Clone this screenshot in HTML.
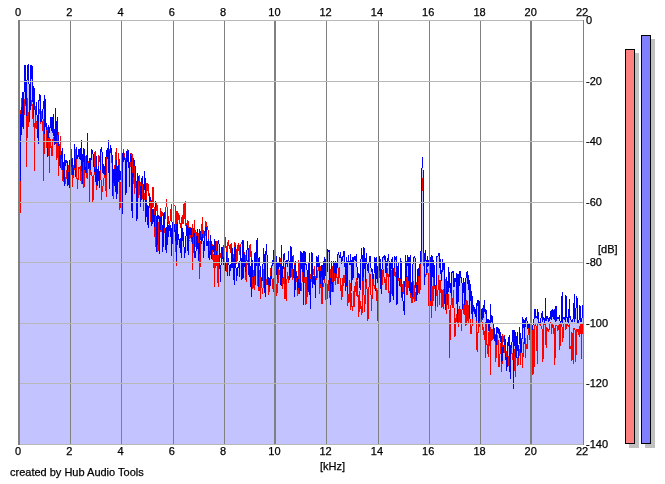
<!DOCTYPE html>
<html><head><meta charset="utf-8"><style>
html,body{margin:0;padding:0;background:#fff;width:665px;height:484px;overflow:hidden}
svg{display:block}
text{font-family:"Liberation Sans",Arial,sans-serif;font-size:11px;fill:#000;stroke:#000;stroke-width:0.25px}
</style></head><body>
<svg width="665" height="484" viewBox="0 0 665 484">
<rect width="665" height="484" fill="#fff"/>
<defs><clipPath id="pc"><rect x="18" y="0" width="565" height="445"/></clipPath></defs>
<g clip-path="url(#pc)">
<polygon points="20.0,445 20.0,183.0 20.6,122.7 21.1,112.6 21.7,135.0 22.2,92.0 22.8,124.8 23.3,129.0 23.9,98.8 24.4,69.7 25.0,65.0 25.5,79.9 26.1,107.3 26.6,116.2 27.2,65.0 27.7,74.5 28.3,65.3 28.8,64.0 29.4,122.2 29.9,110.7 30.5,104.7 31.0,65.0 31.6,79.3 32.1,66.0 32.7,77.1 33.2,116.6 33.8,86.0 34.4,90.7 34.9,108.9 35.5,114.6 36.0,112.0 36.6,102.5 37.1,117.3 37.7,126.6 38.2,144.1 38.8,103.8 39.3,96.0 39.9,94.3 40.4,97.6 41.0,122.0 41.5,120.7 42.1,119.0 42.6,109.5 43.2,109.1 43.7,108.0 44.3,95.3 44.8,133.5 45.4,99.5 45.9,126.6 46.5,123.0 47.0,130.0 47.6,157.2 48.2,125.4 48.7,137.7 49.3,128.0 49.8,129.0 50.4,126.8 50.9,117.6 51.5,117.5 52.0,130.7 52.6,132.7 53.1,114.0 53.7,133.4 54.2,137.6 54.8,144.7 55.3,107.7 55.9,143.9 56.4,138.3 57.0,121.2 57.5,117.0 58.1,137.2 58.6,140.4 59.2,149.0 59.7,163.8 60.3,168.4 60.9,156.6 61.4,150.6 62.0,159.0 62.5,148.0 63.1,173.0 63.6,162.2 64.2,186.0 64.7,153.9 65.3,166.0 65.8,163.7 66.4,161.0 66.9,159.7 67.5,167.5 68.0,185.7 68.6,171.9 69.1,188.0 69.7,160.0 70.2,173.2 70.8,168.9 71.3,165.0 71.9,159.1 72.4,158.5 73.0,174.5 73.5,174.1 74.1,167.1 74.7,144.0 75.2,176.6 75.8,167.4 76.3,147.4 76.9,153.8 77.4,158.3 78.0,156.9 78.5,149.4 79.1,158.5 79.6,150.7 80.2,148.4 80.7,160.2 81.3,140.0 81.8,163.3 82.4,183.8 82.9,153.9 83.5,161.6 84.0,148.5 84.6,155.8 85.1,172.6 85.7,167.2 86.2,172.7 86.8,170.4 87.3,133.0 87.9,162.7 88.5,164.2 89.0,168.5 89.6,161.2 90.1,157.9 90.7,169.7 91.2,154.7 91.8,150.4 92.3,150.9 92.9,152.7 93.4,160.3 94.0,166.6 94.5,171.4 95.1,170.4 95.6,175.5 96.2,185.2 96.7,156.5 97.3,180.8 97.8,185.9 98.4,172.9 98.9,166.0 99.5,188.0 100.0,170.9 100.6,153.4 101.1,147.6 101.7,148.1 102.3,156.2 102.8,172.3 103.4,173.1 103.9,163.6 104.5,173.4 105.0,175.1 105.6,175.7 106.1,153.0 106.7,151.6 107.2,149.0 107.8,148.1 108.3,173.0 108.9,140.0 109.4,189.2 110.0,153.1 110.5,145.0 111.1,148.9 111.6,152.2 112.2,156.6 112.7,196.0 113.3,169.0 113.8,183.0 114.4,169.4 114.9,184.9 115.5,192.2 116.1,160.0 116.6,199.0 117.2,191.4 117.7,167.3 118.3,164.7 118.8,181.8 119.4,176.7 119.9,169.6 120.5,176.3 121.0,179.7 121.6,189.5 122.1,213.5 122.7,155.3 123.2,151.8 123.8,162.4 124.3,157.0 124.9,159.3 125.4,161.2 126.0,194.9 126.5,151.0 127.1,162.3 127.6,151.9 128.2,150.9 128.8,152.5 129.3,187.4 129.9,164.2 130.4,155.3 131.0,154.0 131.5,210.6 132.1,173.0 132.6,218.0 133.2,159.8 133.7,158.0 134.3,161.8 134.8,165.3 135.4,167.1 135.9,178.3 136.5,191.7 137.0,221.0 137.6,173.1 138.1,176.7 138.7,176.4 139.2,183.1 139.8,184.7 140.3,188.4 140.9,206.5 141.4,177.7 142.0,184.1 142.6,176.1 143.1,185.7 143.7,203.1 144.2,182.1 144.8,171.4 145.3,187.0 145.9,221.6 146.4,200.5 147.0,205.0 147.5,211.6 148.1,228.0 148.6,226.7 149.2,197.1 149.7,194.2 150.3,199.8 150.8,200.8 151.4,201.5 151.9,226.1 152.5,212.5 153.0,208.8 153.6,220.6 154.1,222.0 154.7,226.9 155.2,208.4 155.8,201.2 156.4,244.0 156.9,251.9 157.5,220.5 158.0,215.0 158.6,218.8 159.1,216.4 159.7,254.3 160.2,216.7 160.8,223.7 161.3,216.8 161.9,217.0 162.4,252.0 163.0,249.3 163.5,214.4 164.1,212.8 164.6,214.3 165.2,233.4 165.7,249.6 166.3,227.0 166.8,253.0 167.4,231.0 167.9,221.6 168.5,237.0 169.0,229.2 169.6,229.9 170.2,224.8 170.7,236.5 171.3,228.0 171.8,256.0 172.4,221.9 172.9,227.3 173.5,229.3 174.0,224.4 174.6,226.3 175.1,232.7 175.7,240.8 176.2,224.2 176.8,261.0 177.3,222.5 177.9,235.5 178.4,234.7 179.0,240.4 179.5,247.8 180.1,237.7 180.6,242.5 181.2,258.0 181.7,226.7 182.3,229.2 182.8,241.4 183.4,232.1 184.0,246.5 184.5,258.4 185.1,251.6 185.6,238.9 186.2,234.5 186.7,225.6 187.3,226.3 187.8,249.1 188.4,255.0 188.9,227.9 189.5,227.7 190.0,235.4 190.6,229.6 191.1,228.0 191.7,231.2 192.2,243.5 192.8,243.0 193.3,228.4 193.9,229.6 194.4,245.7 195.0,257.4 195.5,256.7 196.1,250.2 196.7,247.6 197.2,229.0 197.8,248.7 198.3,242.7 198.9,261.0 199.4,228.7 200.0,231.8 200.5,231.5 201.1,241.3 201.6,244.2 202.2,234.2 202.7,238.8 203.3,242.6 203.8,258.0 204.4,240.0 204.9,232.3 205.5,228.5 206.0,227.0 206.6,246.4 207.1,245.3 207.7,244.7 208.2,239.1 208.8,258.0 209.3,250.8 209.9,259.9 210.5,234.9 211.0,241.0 211.6,259.4 212.1,246.4 212.7,246.0 213.2,251.7 213.8,250.2 214.3,238.8 214.9,254.6 215.4,241.0 216.0,250.9 216.5,255.4 217.1,249.7 217.6,249.6 218.2,241.6 218.7,241.0 219.3,247.1 219.8,261.5 220.4,281.6 220.9,268.4 221.5,250.7 222.0,247.0 222.6,257.9 223.1,256.9 223.7,258.5 224.3,271.3 224.8,269.2 225.4,270.7 225.9,265.3 226.5,252.5 227.0,263.4 227.6,275.6 228.1,258.0 228.7,260.7 229.2,267.8 229.8,276.3 230.3,264.0 230.9,268.6 231.4,266.7 232.0,247.5 232.5,267.7 233.1,258.4 233.6,267.9 234.2,284.7 234.7,248.5 235.3,245.3 235.8,261.2 236.4,280.9 236.9,275.0 237.5,275.4 238.1,265.5 238.6,262.7 239.2,270.5 239.7,277.3 240.3,247.5 240.8,252.2 241.4,268.8 241.9,278.6 242.5,278.0 243.0,240.0 243.6,277.7 244.1,254.3 244.7,256.1 245.2,272.4 245.8,266.8 246.3,252.9 246.9,252.8 247.4,240.8 248.0,247.0 248.5,265.2 249.1,276.6 249.6,262.0 250.2,267.2 250.7,275.7 251.3,297.0 251.9,258.5 252.4,263.1 253.0,277.0 253.5,283.5 254.1,274.7 254.6,254.6 255.2,251.6 255.7,285.1 256.3,249.1 256.8,241.0 257.4,237.6 257.9,251.7 258.5,286.5 259.0,264.3 259.6,257.2 260.1,267.7 260.7,271.8 261.2,280.7 261.8,279.7 262.3,279.9 262.9,268.5 263.4,248.3 264.0,253.3 264.6,274.0 265.1,297.0 265.7,252.1 266.2,250.7 266.8,244.0 267.3,268.5 267.9,285.2 268.4,283.8 269.0,277.3 269.5,287.0 270.1,276.5 270.6,285.7 271.2,276.2 271.7,272.5 272.3,260.3 272.8,262.6 273.4,263.1 273.9,250.3 274.5,262.8 275.0,283.8 275.6,270.6 276.1,256.1 276.7,269.6 277.2,278.5 277.8,263.0 278.4,263.2 278.9,269.4 279.5,257.0 280.0,263.6 280.6,284.2 281.1,284.6 281.7,245.5 282.2,278.3 282.8,266.7 283.3,268.7 283.9,254.6 284.4,254.0 285.0,259.9 285.5,284.4 286.1,260.3 286.6,260.6 287.2,262.3 287.7,267.2 288.3,254.5 288.8,251.1 289.4,280.0 289.9,278.8 290.5,273.3 291.0,246.5 291.6,268.0 292.2,256.3 292.7,267.2 293.3,270.5 293.8,277.8 294.4,265.2 294.9,297.0 295.5,260.9 296.0,272.1 296.6,277.9 297.1,275.8 297.7,290.2 298.2,286.4 298.8,279.1 299.3,286.9 299.9,293.6 300.4,284.6 301.0,252.0 301.5,252.9 302.1,271.8 302.6,257.9 303.2,251.5 303.7,304.7 304.3,252.8 304.8,251.9 305.4,253.0 306.0,264.4 306.5,264.3 307.1,271.3 307.6,285.7 308.2,292.2 308.7,272.7 309.3,253.0 309.8,286.8 310.4,309.3 310.9,283.4 311.5,261.6 312.0,251.8 312.6,287.6 313.1,275.9 313.7,284.1 314.2,277.0 314.8,276.5 315.3,297.5 315.9,281.8 316.4,267.5 317.0,256.5 317.5,261.2 318.1,267.4 318.6,255.0 319.2,266.5 319.8,274.2 320.3,283.8 320.9,271.4 321.4,277.4 322.0,264.9 322.5,287.1 323.1,261.0 323.6,279.0 324.2,278.4 324.7,257.0 325.3,261.6 325.8,275.9 326.4,251.3 326.9,251.0 327.5,271.5 328.0,250.0 328.6,250.9 329.1,250.4 329.7,251.4 330.2,304.7 330.8,290.0 331.3,261.1 331.9,282.2 332.5,292.4 333.0,282.5 333.6,260.8 334.1,273.2 334.7,267.5 335.2,260.8 335.8,277.9 336.3,267.7 336.9,262.3 337.4,268.2 338.0,253.6 338.5,251.7 339.1,255.2 339.6,256.0 340.2,258.3 340.7,251.6 341.3,261.9 341.8,263.6 342.4,255.9 342.9,258.2 343.5,251.7 344.0,251.0 344.6,266.5 345.1,262.6 345.7,291.1 346.3,256.6 346.8,282.0 347.4,294.0 347.9,262.9 348.5,255.4 349.0,261.4 349.6,261.3 350.1,265.2 350.7,254.0 351.2,262.7 351.8,290.6 352.3,266.2 352.9,256.6 353.4,278.3 354.0,257.4 354.5,257.0 355.1,260.9 355.6,256.8 356.2,255.5 356.7,258.6 357.3,274.7 357.8,279.6 358.4,275.4 358.9,273.2 359.5,276.7 360.1,290.0 360.6,276.6 361.2,251.3 361.7,248.3 362.3,261.7 362.8,281.3 363.4,269.7 363.9,247.0 364.5,253.9 365.0,269.4 365.6,282.1 366.1,253.0 366.7,255.8 367.2,268.8 367.8,270.5 368.3,271.3 368.9,264.2 369.4,259.1 370.0,256.4 370.5,256.3 371.1,269.8 371.6,270.9 372.2,269.3 372.7,278.6 373.3,277.2 373.9,278.4 374.4,257.3 375.0,256.9 375.5,290.7 376.1,256.6 376.6,267.8 377.2,283.2 377.7,265.9 378.3,282.8 378.8,265.3 379.4,271.1 379.9,256.3 380.5,269.1 381.0,289.4 381.6,294.0 382.1,263.9 382.7,257.1 383.2,256.5 383.8,256.6 384.3,260.4 384.9,255.8 385.4,256.6 386.0,273.0 386.5,261.5 387.1,265.8 387.7,260.4 388.2,256.2 388.8,254.0 389.3,270.4 389.9,268.6 390.4,302.2 391.0,263.2 391.5,268.8 392.1,257.0 392.6,286.5 393.2,300.4 393.7,278.4 394.3,258.1 394.8,256.6 395.4,260.3 395.9,257.0 396.5,256.5 397.0,305.0 397.6,278.8 398.1,263.1 398.7,275.5 399.2,278.7 399.8,286.4 400.4,264.5 400.9,257.7 401.5,272.9 402.0,297.3 402.6,292.5 403.1,302.6 403.7,305.2 404.2,314.5 404.8,299.1 405.3,255.9 405.9,256.6 406.4,276.8 407.0,266.3 407.5,254.6 408.1,258.4 408.6,256.7 409.2,290.9 409.7,258.0 410.3,256.9 410.8,292.3 411.4,295.4 411.9,283.0 412.5,297.0 413.0,264.6 413.6,259.8 414.2,256.6 414.7,256.4 415.3,259.6 415.8,288.3 416.4,285.1 416.9,300.6 417.5,271.6 418.0,269.4 418.6,268.5 419.1,277.3 419.7,269.8 420.2,260.9 420.8,262.0 421.3,235.0 421.9,172.0 422.4,157.0 423.0,168.0 423.5,225.0 424.1,258.0 424.6,285.3 425.2,250.5 425.7,257.3 426.3,262.7 426.8,273.0 427.4,256.2 428.0,260.2 428.5,265.7 429.1,265.3 429.6,274.2 430.2,301.0 430.7,260.0 431.3,254.6 431.8,286.4 432.4,260.3 432.9,255.9 433.5,277.9 434.0,264.8 434.6,271.8 435.1,288.9 435.7,305.9 436.2,272.9 436.8,256.8 437.3,256.4 437.9,256.5 438.4,254.3 439.0,255.4 439.5,252.6 440.1,271.0 440.6,258.7 441.2,281.3 441.8,279.3 442.3,258.8 442.9,271.8 443.4,263.7 444.0,262.6 444.5,269.1 445.1,309.6 445.6,295.8 446.2,292.7 446.7,277.1 447.3,284.1 447.8,305.0 448.4,266.7 448.9,269.2 449.5,282.9 450.0,287.7 450.6,282.9 451.1,295.5 451.7,272.3 452.2,271.9 452.8,272.6 453.3,272.0 453.9,287.0 454.4,286.0 455.0,278.2 455.6,281.8 456.1,278.4 456.7,273.3 457.2,321.8 457.8,273.9 458.3,302.2 458.9,274.4 459.4,285.6 460.0,271.0 460.5,277.2 461.1,278.2 461.6,277.9 462.2,285.6 462.7,309.1 463.3,279.7 463.8,278.0 464.4,288.3 464.9,304.8 465.5,284.4 466.0,278.2 466.6,276.6 467.1,271.0 467.7,284.3 468.3,279.3 468.8,275.2 469.4,317.6 469.9,280.0 470.5,300.1 471.0,300.9 471.6,290.8 472.1,318.6 472.7,295.8 473.2,310.8 473.8,304.7 474.3,310.9 474.9,312.9 475.4,316.8 476.0,309.3 476.5,321.3 477.1,300.0 477.6,306.0 478.2,300.1 478.7,323.6 479.3,318.3 479.8,301.0 480.4,315.0 480.9,321.4 481.5,309.6 482.1,309.1 482.6,320.1 483.2,316.4 483.7,310.2 484.3,300.0 484.8,311.1 485.4,314.1 485.9,308.8 486.5,313.7 487.0,324.2 487.6,320.3 488.1,319.2 488.7,331.4 489.2,326.8 489.8,331.0 490.3,304.0 490.9,324.1 491.4,314.8 492.0,316.1 492.5,321.3 493.1,324.1 493.6,329.3 494.2,341.0 494.7,328.0 495.3,342.1 495.9,337.1 496.4,345.0 497.0,326.7 497.5,329.0 498.1,334.2 498.6,328.7 499.2,329.4 499.7,333.3 500.3,341.7 500.8,332.4 501.4,343.6 501.9,362.0 502.5,356.1 503.0,347.3 503.6,353.1 504.1,343.7 504.7,336.3 505.2,340.2 505.8,360.1 506.3,357.4 506.9,370.6 507.4,353.1 508.0,341.7 508.5,346.4 509.1,335.3 509.7,359.5 510.2,379.4 510.8,346.3 511.3,347.2 511.9,344.6 512.4,333.7 513.0,330.0 513.5,389.0 514.1,338.5 514.6,330.3 515.2,333.4 515.7,355.9 516.3,357.0 516.8,337.7 517.4,332.0 517.9,349.5 518.5,358.0 519.0,344.9 519.6,327.3 520.1,334.1 520.7,352.5 521.2,351.5 521.8,350.7 522.4,317.0 522.9,328.5 523.5,325.3 524.0,319.3 524.6,343.7 525.1,323.2 525.7,318.6 526.2,317.2 526.8,317.7 527.3,325.2 527.9,328.9 528.4,324.2 529.0,324.7 529.5,332.6 530.1,322.6 530.6,323.1 531.2,331.6 531.7,330.6 532.3,328.6 532.8,327.3 533.4,321.2 533.9,319.9 534.5,316.5 535.0,309.0 535.6,317.0 536.2,316.3 536.7,316.8 537.3,318.7 537.8,309.0 538.4,317.5 538.9,322.2 539.5,323.5 540.0,322.7 540.6,318.5 541.1,318.1 541.7,316.6 542.2,310.7 542.8,322.1 543.3,317.9 543.9,317.6 544.4,318.2 545.0,322.7 545.5,297.6 546.1,320.6 546.6,316.5 547.2,318.5 547.7,317.2 548.3,318.8 548.8,322.3 549.4,318.6 550.0,317.6 550.5,311.0 551.1,320.1 551.6,312.8 552.2,309.0 552.7,314.2 553.3,318.9 553.8,311.0 554.4,308.9 554.9,319.9 555.5,321.6 556.0,305.8 556.6,321.0 557.1,316.8 557.7,317.7 558.2,319.0 558.8,317.9 559.3,316.8 559.9,320.6 560.4,321.9 561.0,322.4 561.5,319.8 562.1,292.4 562.6,323.0 563.2,317.8 563.8,317.2 564.3,317.1 564.9,319.3 565.4,322.3 566.0,295.5 566.5,317.7 567.1,317.4 567.6,319.9 568.2,322.5 568.7,320.1 569.3,298.6 569.8,318.1 570.4,316.4 570.9,319.5 571.5,321.5 572.0,321.1 572.6,321.7 573.1,318.9 573.7,318.7 574.2,294.5 574.8,322.1 575.3,314.8 575.9,311.8 576.4,296.3 577.0,297.8 577.6,322.0 578.1,321.5 578.7,322.3 579.2,319.4 579.8,304.8 580.3,307.9 580.9,322.4 581.4,321.4 582.0,318.1 582.5,304.8 583.1,317.1 583.6,312.7 584.2,320.4 584.2,445" fill="#c3c3ff" stroke="none" shape-rendering="crispEdges"/>
<polyline points="20.0,216.0 20.6,141.1 21.1,102.6 21.7,99.4 22.2,97.5 22.8,97.7 23.3,117.0 23.9,119.5 24.4,99.0 25.0,102.2 25.5,106.3 26.1,98.0 26.6,166.5 27.2,97.8 27.7,137.5 28.3,117.6 28.8,112.5 29.4,114.4 29.9,91.0 30.5,107.1 31.0,100.2 31.6,105.4 32.1,105.4 32.7,104.5 33.2,127.1 33.8,97.7 34.4,170.7 34.9,133.6 35.5,106.2 36.0,124.6 36.6,120.9 37.1,130.9 37.7,134.0 38.2,119.0 38.8,105.0 39.3,113.5 39.9,111.7 40.4,124.1 41.0,112.0 41.5,111.4 42.1,122.6 42.6,131.3 43.2,119.1 43.7,181.0 44.3,128.6 44.8,123.7 45.4,127.0 45.9,124.6 46.5,130.9 47.0,148.4 47.6,132.3 48.2,125.0 48.7,137.9 49.3,172.7 49.8,136.6 50.4,142.2 50.9,148.4 51.5,145.7 52.0,156.2 52.6,146.2 53.1,137.8 53.7,137.6 54.2,143.9 54.8,134.2 55.3,125.0 55.9,124.9 56.4,128.2 57.0,159.9 57.5,125.0 58.1,133.0 58.6,176.0 59.2,151.8 59.7,152.5 60.3,135.8 60.9,151.2 61.4,167.8 62.0,169.9 62.5,177.7 63.1,181.7 63.6,174.6 64.2,169.0 64.7,173.0 65.3,180.5 65.8,184.0 66.4,169.6 66.9,173.4 67.5,174.1 68.0,165.1 68.6,169.8 69.1,178.2 69.7,175.0 70.2,156.2 70.8,148.4 71.3,150.0 71.9,171.8 72.4,187.3 73.0,178.6 73.5,165.3 74.1,166.0 74.7,170.3 75.2,153.5 75.8,149.4 76.3,166.1 76.9,175.5 77.4,188.5 78.0,180.1 78.5,169.2 79.1,166.8 79.6,168.8 80.2,166.2 80.7,177.4 81.3,183.7 81.8,167.7 82.4,172.4 82.9,156.5 83.5,181.6 84.0,188.3 84.6,163.7 85.1,155.7 85.7,160.5 86.2,170.3 86.8,177.0 87.3,177.9 87.9,162.2 88.5,164.5 89.0,161.2 89.6,203.0 90.1,166.0 90.7,175.3 91.2,172.3 91.8,174.5 92.3,178.0 92.9,203.1 93.4,189.7 94.0,175.6 94.5,161.8 95.1,150.9 95.6,153.2 96.2,175.7 96.7,189.5 97.3,175.6 97.8,172.6 98.4,176.2 98.9,155.0 99.5,161.5 100.0,162.2 100.6,174.8 101.1,181.7 101.7,199.5 102.3,185.8 102.8,189.9 103.4,180.0 103.9,179.4 104.5,174.4 105.0,175.3 105.6,164.7 106.1,196.5 106.7,160.2 107.2,154.2 107.8,154.4 108.3,162.3 108.9,163.5 109.4,162.1 110.0,149.0 110.5,148.1 111.1,153.5 111.6,158.0 112.2,164.5 112.7,176.0 113.3,199.3 113.8,176.5 114.4,165.1 114.9,173.7 115.5,177.5 116.1,148.5 116.6,174.7 117.2,167.3 117.7,180.0 118.3,174.1 118.8,152.7 119.4,170.8 119.9,209.8 120.5,199.5 121.0,181.8 121.6,175.1 122.1,172.5 122.7,177.7 123.2,151.5 123.8,149.5 124.3,157.3 124.9,156.2 125.4,164.0 126.0,163.0 126.5,188.5 127.1,158.1 127.6,149.0 128.2,152.3 128.8,160.5 129.3,163.7 129.9,164.3 130.4,167.2 131.0,153.0 131.5,158.3 132.1,153.7 132.6,157.0 133.2,183.6 133.7,165.9 134.3,194.1 134.8,161.0 135.4,180.1 135.9,183.0 136.5,206.7 137.0,190.1 137.6,189.1 138.1,197.7 138.7,189.5 139.2,175.0 139.8,195.4 140.3,191.2 140.9,182.2 141.4,196.3 142.0,199.2 142.6,182.1 143.1,185.7 143.7,210.7 144.2,193.5 144.8,199.7 145.3,185.1 145.9,191.3 146.4,201.0 147.0,183.0 147.5,191.2 148.1,183.6 148.6,195.5 149.2,195.8 149.7,193.5 150.3,222.2 150.8,199.6 151.4,200.2 151.9,209.8 152.5,201.4 153.0,187.0 153.6,196.7 154.1,209.0 154.7,217.9 155.2,247.0 155.8,215.5 156.4,202.6 156.9,203.3 157.5,210.7 158.0,252.0 158.6,222.3 159.1,236.4 159.7,252.4 160.2,220.0 160.8,207.6 161.3,232.3 161.9,212.2 162.4,213.0 163.0,215.6 163.5,219.5 164.1,233.4 164.6,222.5 165.2,216.8 165.7,209.7 166.3,205.4 166.8,199.3 167.4,221.0 167.9,225.4 168.5,216.0 169.0,221.6 169.6,225.5 170.2,218.8 170.7,214.1 171.3,203.7 171.8,217.7 172.4,229.2 172.9,240.0 173.5,208.1 174.0,205.9 174.6,205.6 175.1,206.5 175.7,252.0 176.2,211.4 176.8,265.8 177.3,215.9 177.9,211.0 178.4,219.8 179.0,214.8 179.5,216.7 180.1,224.9 180.6,222.9 181.2,230.3 181.7,219.8 182.3,215.5 182.8,224.2 183.4,222.9 184.0,204.4 184.5,219.0 185.1,201.0 185.6,225.8 186.2,222.6 186.7,229.2 187.3,229.6 187.8,219.9 188.4,223.0 188.9,241.4 189.5,239.5 190.0,227.1 190.6,229.9 191.1,239.2 191.7,242.0 192.2,224.1 192.8,269.5 193.3,231.0 193.9,238.2 194.4,220.0 195.0,247.4 195.5,230.1 196.1,238.6 196.7,232.3 197.2,235.8 197.8,235.7 198.3,233.2 198.9,238.2 199.4,279.1 200.0,267.7 200.5,240.6 201.1,244.3 201.6,237.9 202.2,217.0 202.7,238.8 203.3,237.3 203.8,229.6 204.4,251.0 204.9,239.0 205.5,221.7 206.0,222.4 206.6,229.2 207.1,226.0 207.7,229.6 208.2,230.7 208.8,241.4 209.3,241.3 209.9,254.3 210.5,237.3 211.0,248.2 211.6,243.0 212.1,244.4 212.7,259.5 213.2,255.6 213.8,254.1 214.3,286.8 214.9,240.6 215.4,266.9 216.0,267.2 216.5,243.4 217.1,240.9 217.6,271.9 218.2,287.2 218.7,259.8 219.3,251.4 219.8,257.0 220.4,252.8 220.9,257.9 221.5,256.5 222.0,257.5 222.6,251.2 223.1,245.8 223.7,245.5 224.3,266.8 224.8,234.0 225.4,243.3 225.9,248.1 226.5,246.1 227.0,272.3 227.6,249.2 228.1,240.9 228.7,240.4 229.2,248.6 229.8,246.0 230.3,245.1 230.9,253.2 231.4,243.3 232.0,251.2 232.5,260.1 233.1,269.1 233.6,270.9 234.2,247.5 234.7,242.1 235.3,243.6 235.8,243.0 236.4,259.6 236.9,264.2 237.5,249.4 238.1,243.8 238.6,244.2 239.2,254.7 239.7,245.0 240.3,252.8 240.8,244.9 241.4,242.3 241.9,243.0 242.5,242.6 243.0,240.0 243.6,259.0 244.1,256.5 244.7,251.6 245.2,257.5 245.8,280.0 246.3,280.6 246.9,261.9 247.4,264.5 248.0,260.4 248.5,266.4 249.1,272.3 249.6,248.3 250.2,244.1 250.7,257.4 251.3,250.6 251.9,255.0 252.4,284.4 253.0,288.5 253.5,270.3 254.1,280.6 254.6,290.1 255.2,266.7 255.7,256.4 256.3,264.8 256.8,253.4 257.4,262.2 257.9,286.0 258.5,279.4 259.0,291.3 259.6,280.6 260.1,268.0 260.7,299.0 261.2,277.1 261.8,284.4 262.3,293.8 262.9,293.2 263.4,272.7 264.0,269.3 264.6,271.0 265.1,263.1 265.7,282.1 266.2,281.5 266.8,285.1 267.3,272.0 267.9,278.8 268.4,295.0 269.0,292.3 269.5,286.5 270.1,280.4 270.6,273.4 271.2,265.3 271.7,268.8 272.3,288.9 272.8,279.8 273.4,278.0 273.9,292.3 274.5,273.9 275.0,267.6 275.6,293.7 276.1,289.3 276.7,295.7 277.2,278.4 277.8,292.6 278.4,266.0 278.9,269.5 279.5,273.3 280.0,272.0 280.6,279.7 281.1,253.6 281.7,260.1 282.2,288.6 282.8,271.7 283.3,283.7 283.9,279.0 284.4,299.0 285.0,267.0 285.5,286.9 286.1,300.6 286.6,295.4 287.2,272.4 287.7,274.0 288.3,283.2 288.8,275.6 289.4,277.0 289.9,279.8 290.5,264.4 291.0,260.8 291.6,268.8 292.2,280.0 292.7,270.8 293.3,255.3 293.8,255.0 294.4,274.5 294.9,278.4 295.5,281.3 296.0,282.8 296.6,270.6 297.1,280.6 297.7,296.4 298.2,292.4 298.8,259.9 299.3,268.3 299.9,293.4 300.4,279.4 301.0,287.1 301.5,290.7 302.1,281.2 302.6,266.8 303.2,266.3 303.7,275.3 304.3,282.8 304.8,269.6 305.4,291.6 306.0,304.8 306.5,282.5 307.1,276.2 307.6,297.0 308.2,271.8 308.7,266.7 309.3,273.0 309.8,293.4 310.4,295.1 310.9,273.6 311.5,282.2 312.0,277.7 312.6,276.1 313.1,274.7 313.7,273.8 314.2,266.1 314.8,266.8 315.3,288.2 315.9,282.9 316.4,270.0 317.0,271.4 317.5,278.2 318.1,269.3 318.6,266.0 319.2,272.0 319.8,294.3 320.3,279.7 320.9,266.2 321.4,276.3 322.0,304.4 322.5,293.8 323.1,283.1 323.6,287.1 324.2,281.6 324.7,265.0 325.3,299.7 325.8,293.3 326.4,290.8 326.9,279.7 327.5,299.4 328.0,291.6 328.6,281.1 329.1,280.1 329.7,285.3 330.2,304.7 330.8,268.8 331.3,277.1 331.9,291.8 332.5,266.2 333.0,271.6 333.6,292.1 334.1,278.6 334.7,269.5 335.2,284.6 335.8,269.6 336.3,271.4 336.9,277.6 337.4,277.6 338.0,284.2 338.5,271.4 339.1,267.2 339.6,269.4 340.2,281.6 340.7,280.6 341.3,299.6 341.8,285.4 342.4,296.5 342.9,277.9 343.5,286.3 344.0,275.4 344.6,279.7 345.1,283.3 345.7,278.8 346.3,273.7 346.8,282.3 347.4,294.2 347.9,305.5 348.5,294.4 349.0,302.5 349.6,280.3 350.1,283.6 350.7,310.2 351.2,293.5 351.8,305.4 352.3,310.2 352.9,311.0 353.4,291.5 354.0,301.1 354.5,307.4 355.1,282.6 355.6,282.6 356.2,296.4 356.7,278.5 357.3,284.1 357.8,297.4 358.4,295.0 358.9,317.0 359.5,290.9 360.1,308.8 360.6,301.1 361.2,308.0 361.7,314.5 362.3,310.6 362.8,279.4 363.4,274.4 363.9,290.9 364.5,312.4 365.0,304.6 365.6,284.6 366.1,278.8 366.7,281.1 367.2,293.3 367.8,320.7 368.3,316.2 368.9,290.6 369.4,274.8 370.0,273.5 370.5,286.9 371.1,296.8 371.6,310.9 372.2,294.5 372.7,272.9 373.3,277.4 373.9,285.3 374.4,288.6 375.0,285.2 375.5,290.5 376.1,287.7 376.6,301.1 377.2,290.2 377.7,321.0 378.3,285.7 378.8,272.6 379.4,270.4 379.9,276.9 380.5,276.5 381.0,288.3 381.6,287.7 382.1,284.1 382.7,271.4 383.2,268.6 383.8,272.2 384.3,282.9 384.9,278.4 385.4,281.5 386.0,290.0 386.5,282.0 387.1,268.0 387.7,277.0 388.2,274.3 388.8,293.4 389.3,290.7 389.9,302.6 390.4,294.4 391.0,294.7 391.5,274.5 392.1,269.0 392.6,276.0 393.2,269.9 393.7,269.2 394.3,268.6 394.8,276.0 395.4,272.1 395.9,275.5 396.5,284.7 397.0,271.5 397.6,272.1 398.1,280.7 398.7,276.3 399.2,283.2 399.8,281.7 400.4,276.4 400.9,284.0 401.5,297.1 402.0,298.3 402.6,297.3 403.1,281.5 403.7,290.3 404.2,296.0 404.8,293.4 405.3,279.5 405.9,273.7 406.4,274.1 407.0,295.4 407.5,276.0 408.1,288.0 408.6,284.6 409.2,276.6 409.7,281.9 410.3,298.2 410.8,288.5 411.4,302.7 411.9,281.8 412.5,303.0 413.0,281.1 413.6,292.4 414.2,302.0 414.7,285.0 415.3,297.5 415.8,301.3 416.4,282.5 416.9,290.9 417.5,271.0 418.0,274.6 418.6,288.8 419.1,294.0 419.7,275.5 420.2,290.1 420.8,272.0 421.3,250.0 421.9,195.0 422.4,178.0 423.0,185.0 423.5,240.0 424.1,270.0 424.6,269.8 425.2,277.2 425.7,276.0 426.3,272.8 426.8,275.4 427.4,270.1 428.0,270.9 428.5,304.1 429.1,305.8 429.6,303.5 430.2,306.2 430.7,273.7 431.3,271.5 431.8,317.6 432.4,285.6 432.9,303.3 433.5,293.4 434.0,278.0 434.6,273.5 435.1,291.7 435.7,311.2 436.2,276.8 436.8,287.8 437.3,307.4 437.9,295.1 438.4,275.3 439.0,279.0 439.5,305.0 440.1,291.0 440.6,280.0 441.2,292.3 441.8,307.4 442.3,307.0 442.9,290.4 443.4,309.2 444.0,288.7 444.5,278.1 445.1,279.2 445.6,301.8 446.2,314.3 446.7,295.1 447.3,287.1 447.8,287.5 448.4,305.4 448.9,297.6 449.5,358.0 450.0,340.4 450.6,334.7 451.1,298.7 451.7,288.2 452.2,307.7 452.8,303.3 453.3,290.3 453.9,299.3 454.4,337.4 455.0,326.3 455.6,336.0 456.1,314.2 456.7,321.0 457.2,321.7 457.8,323.5 458.3,308.7 458.9,326.6 459.4,305.6 460.0,309.0 460.5,316.9 461.1,325.4 461.6,331.0 462.2,301.2 462.7,305.8 463.3,305.2 463.8,312.9 464.4,315.3 464.9,298.1 465.5,305.4 466.0,325.6 466.6,300.6 467.1,301.1 467.7,318.3 468.3,324.0 468.8,305.1 469.4,305.0 469.9,315.3 470.5,332.9 471.0,334.1 471.6,333.7 472.1,324.2 472.7,313.0 473.2,311.2 473.8,311.5 474.3,313.0 474.9,313.5 475.4,313.8 476.0,314.9 476.5,337.9 477.1,352.0 477.6,333.2 478.2,332.1 478.7,323.9 479.3,320.5 479.8,327.2 480.4,318.1 480.9,318.5 481.5,318.5 482.1,323.0 482.6,330.2 483.2,327.4 483.7,333.8 484.3,335.1 484.8,330.6 485.4,358.0 485.9,322.3 486.5,324.0 487.0,344.3 487.6,344.7 488.1,356.6 488.7,340.2 489.2,327.1 489.8,325.1 490.3,374.7 490.9,327.3 491.4,334.2 492.0,340.6 492.5,329.8 493.1,329.2 493.6,335.8 494.2,341.1 494.7,333.1 495.3,334.9 495.9,362.0 496.4,343.6 497.0,345.2 497.5,334.8 498.1,341.2 498.6,366.4 499.2,366.7 499.7,360.2 500.3,348.8 500.8,342.9 501.4,364.9 501.9,372.0 502.5,335.5 503.0,336.4 503.6,342.4 504.1,335.0 504.7,347.5 505.2,356.4 505.8,345.9 506.3,358.0 506.9,359.9 507.4,352.1 508.0,365.8 508.5,360.5 509.1,355.2 509.7,355.6 510.2,368.5 510.8,349.9 511.3,346.9 511.9,351.5 512.4,359.6 513.0,357.0 513.5,359.8 514.1,349.4 514.6,359.4 515.2,376.8 515.7,345.6 516.3,349.4 516.8,354.7 517.4,362.2 517.9,366.3 518.5,359.4 519.0,348.8 519.6,352.6 520.1,356.5 520.7,364.8 521.2,338.3 521.8,344.6 522.4,368.0 522.9,360.9 523.5,343.3 524.0,342.4 524.6,340.3 525.1,337.9 525.7,357.9 526.2,344.4 526.8,346.7 527.3,349.3 527.9,338.2 528.4,327.1 529.0,326.9 529.5,339.5 530.1,339.8 530.6,334.9 531.2,335.2 531.7,327.2 532.3,375.0 532.8,326.8 533.4,332.5 533.9,374.4 534.5,339.1 535.0,325.0 535.6,323.6 536.2,327.3 536.7,336.6 537.3,364.0 537.8,323.9 538.4,323.4 538.9,324.1 539.5,323.5 540.0,324.5 540.6,323.3 541.1,326.3 541.7,327.2 542.2,329.9 542.8,361.8 543.3,356.0 543.9,324.7 544.4,324.0 545.0,323.6 545.5,326.6 546.1,348.2 546.6,326.6 547.2,328.6 547.7,331.4 548.3,329.4 548.8,332.4 549.4,325.9 550.0,324.0 550.5,322.7 551.1,323.3 551.6,333.6 552.2,325.5 552.7,324.2 553.3,325.5 553.8,334.4 554.4,328.5 554.9,364.7 555.5,329.8 556.0,324.9 556.6,325.4 557.1,326.3 557.7,331.1 558.2,329.8 558.8,326.3 559.3,323.8 559.9,350.0 560.4,333.2 561.0,323.9 561.5,325.1 562.1,327.2 562.6,342.3 563.2,336.1 563.8,324.6 564.3,323.3 564.9,323.2 565.4,323.6 566.0,329.5 566.5,326.8 567.1,323.6 567.6,323.2 568.2,327.2 568.7,325.0 569.3,324.9 569.8,348.2 570.4,348.2 570.9,345.9 571.5,360.6 572.0,332.3 572.6,344.0 573.1,363.5 573.7,329.0 574.2,329.7 574.8,328.2 575.3,332.5 575.9,362.3 576.4,331.7 577.0,329.4 577.6,331.1 578.1,329.3 578.7,331.0 579.2,337.0 579.8,328.3 580.3,322.9 580.9,327.1 581.4,358.5 582.0,324.3 582.5,326.6 583.1,335.1 583.6,325.6 584.2,327.4" fill="none" stroke="#ff0000" stroke-width="1" shape-rendering="crispEdges"/>
<polyline points="20.0,183.0 20.6,122.7 21.1,112.6 21.7,135.0 22.2,92.0 22.8,124.8 23.3,129.0 23.9,98.8 24.4,69.7 25.0,65.0 25.5,79.9 26.1,107.3 26.6,116.2 27.2,65.0 27.7,74.5 28.3,65.3 28.8,64.0 29.4,122.2 29.9,110.7 30.5,104.7 31.0,65.0 31.6,79.3 32.1,66.0 32.7,77.1 33.2,116.6 33.8,86.0 34.4,90.7 34.9,108.9 35.5,114.6 36.0,112.0 36.6,102.5 37.1,117.3 37.7,126.6 38.2,144.1 38.8,103.8 39.3,96.0 39.9,94.3 40.4,97.6 41.0,122.0 41.5,120.7 42.1,119.0 42.6,109.5 43.2,109.1 43.7,108.0 44.3,95.3 44.8,133.5 45.4,99.5 45.9,126.6 46.5,123.0 47.0,130.0 47.6,157.2 48.2,125.4 48.7,137.7 49.3,128.0 49.8,129.0 50.4,126.8 50.9,117.6 51.5,117.5 52.0,130.7 52.6,132.7 53.1,114.0 53.7,133.4 54.2,137.6 54.8,144.7 55.3,107.7 55.9,143.9 56.4,138.3 57.0,121.2 57.5,117.0 58.1,137.2 58.6,140.4 59.2,149.0 59.7,163.8 60.3,168.4 60.9,156.6 61.4,150.6 62.0,159.0 62.5,148.0 63.1,173.0 63.6,162.2 64.2,186.0 64.7,153.9 65.3,166.0 65.8,163.7 66.4,161.0 66.9,159.7 67.5,167.5 68.0,185.7 68.6,171.9 69.1,188.0 69.7,160.0 70.2,173.2 70.8,168.9 71.3,165.0 71.9,159.1 72.4,158.5 73.0,174.5 73.5,174.1 74.1,167.1 74.7,144.0 75.2,176.6 75.8,167.4 76.3,147.4 76.9,153.8 77.4,158.3 78.0,156.9 78.5,149.4 79.1,158.5 79.6,150.7 80.2,148.4 80.7,160.2 81.3,140.0 81.8,163.3 82.4,183.8 82.9,153.9 83.5,161.6 84.0,148.5 84.6,155.8 85.1,172.6 85.7,167.2 86.2,172.7 86.8,170.4 87.3,133.0 87.9,162.7 88.5,164.2 89.0,168.5 89.6,161.2 90.1,157.9 90.7,169.7 91.2,154.7 91.8,150.4 92.3,150.9 92.9,152.7 93.4,160.3 94.0,166.6 94.5,171.4 95.1,170.4 95.6,175.5 96.2,185.2 96.7,156.5 97.3,180.8 97.8,185.9 98.4,172.9 98.9,166.0 99.5,188.0 100.0,170.9 100.6,153.4 101.1,147.6 101.7,148.1 102.3,156.2 102.8,172.3 103.4,173.1 103.9,163.6 104.5,173.4 105.0,175.1 105.6,175.7 106.1,153.0 106.7,151.6 107.2,149.0 107.8,148.1 108.3,173.0 108.9,140.0 109.4,189.2 110.0,153.1 110.5,145.0 111.1,148.9 111.6,152.2 112.2,156.6 112.7,196.0 113.3,169.0 113.8,183.0 114.4,169.4 114.9,184.9 115.5,192.2 116.1,160.0 116.6,199.0 117.2,191.4 117.7,167.3 118.3,164.7 118.8,181.8 119.4,176.7 119.9,169.6 120.5,176.3 121.0,179.7 121.6,189.5 122.1,213.5 122.7,155.3 123.2,151.8 123.8,162.4 124.3,157.0 124.9,159.3 125.4,161.2 126.0,194.9 126.5,151.0 127.1,162.3 127.6,151.9 128.2,150.9 128.8,152.5 129.3,187.4 129.9,164.2 130.4,155.3 131.0,154.0 131.5,210.6 132.1,173.0 132.6,218.0 133.2,159.8 133.7,158.0 134.3,161.8 134.8,165.3 135.4,167.1 135.9,178.3 136.5,191.7 137.0,221.0 137.6,173.1 138.1,176.7 138.7,176.4 139.2,183.1 139.8,184.7 140.3,188.4 140.9,206.5 141.4,177.7 142.0,184.1 142.6,176.1 143.1,185.7 143.7,203.1 144.2,182.1 144.8,171.4 145.3,187.0 145.9,221.6 146.4,200.5 147.0,205.0 147.5,211.6 148.1,228.0 148.6,226.7 149.2,197.1 149.7,194.2 150.3,199.8 150.8,200.8 151.4,201.5 151.9,226.1 152.5,212.5 153.0,208.8 153.6,220.6 154.1,222.0 154.7,226.9 155.2,208.4 155.8,201.2 156.4,244.0 156.9,251.9 157.5,220.5 158.0,215.0 158.6,218.8 159.1,216.4 159.7,254.3 160.2,216.7 160.8,223.7 161.3,216.8 161.9,217.0 162.4,252.0 163.0,249.3 163.5,214.4 164.1,212.8 164.6,214.3 165.2,233.4 165.7,249.6 166.3,227.0 166.8,253.0 167.4,231.0 167.9,221.6 168.5,237.0 169.0,229.2 169.6,229.9 170.2,224.8 170.7,236.5 171.3,228.0 171.8,256.0 172.4,221.9 172.9,227.3 173.5,229.3 174.0,224.4 174.6,226.3 175.1,232.7 175.7,240.8 176.2,224.2 176.8,261.0 177.3,222.5 177.9,235.5 178.4,234.7 179.0,240.4 179.5,247.8 180.1,237.7 180.6,242.5 181.2,258.0 181.7,226.7 182.3,229.2 182.8,241.4 183.4,232.1 184.0,246.5 184.5,258.4 185.1,251.6 185.6,238.9 186.2,234.5 186.7,225.6 187.3,226.3 187.8,249.1 188.4,255.0 188.9,227.9 189.5,227.7 190.0,235.4 190.6,229.6 191.1,228.0 191.7,231.2 192.2,243.5 192.8,243.0 193.3,228.4 193.9,229.6 194.4,245.7 195.0,257.4 195.5,256.7 196.1,250.2 196.7,247.6 197.2,229.0 197.8,248.7 198.3,242.7 198.9,261.0 199.4,228.7 200.0,231.8 200.5,231.5 201.1,241.3 201.6,244.2 202.2,234.2 202.7,238.8 203.3,242.6 203.8,258.0 204.4,240.0 204.9,232.3 205.5,228.5 206.0,227.0 206.6,246.4 207.1,245.3 207.7,244.7 208.2,239.1 208.8,258.0 209.3,250.8 209.9,259.9 210.5,234.9 211.0,241.0 211.6,259.4 212.1,246.4 212.7,246.0 213.2,251.7 213.8,250.2 214.3,238.8 214.9,254.6 215.4,241.0 216.0,250.9 216.5,255.4 217.1,249.7 217.6,249.6 218.2,241.6 218.7,241.0 219.3,247.1 219.8,261.5 220.4,281.6 220.9,268.4 221.5,250.7 222.0,247.0 222.6,257.9 223.1,256.9 223.7,258.5 224.3,271.3 224.8,269.2 225.4,270.7 225.9,265.3 226.5,252.5 227.0,263.4 227.6,275.6 228.1,258.0 228.7,260.7 229.2,267.8 229.8,276.3 230.3,264.0 230.9,268.6 231.4,266.7 232.0,247.5 232.5,267.7 233.1,258.4 233.6,267.9 234.2,284.7 234.7,248.5 235.3,245.3 235.8,261.2 236.4,280.9 236.9,275.0 237.5,275.4 238.1,265.5 238.6,262.7 239.2,270.5 239.7,277.3 240.3,247.5 240.8,252.2 241.4,268.8 241.9,278.6 242.5,278.0 243.0,240.0 243.6,277.7 244.1,254.3 244.7,256.1 245.2,272.4 245.8,266.8 246.3,252.9 246.9,252.8 247.4,240.8 248.0,247.0 248.5,265.2 249.1,276.6 249.6,262.0 250.2,267.2 250.7,275.7 251.3,297.0 251.9,258.5 252.4,263.1 253.0,277.0 253.5,283.5 254.1,274.7 254.6,254.6 255.2,251.6 255.7,285.1 256.3,249.1 256.8,241.0 257.4,237.6 257.9,251.7 258.5,286.5 259.0,264.3 259.6,257.2 260.1,267.7 260.7,271.8 261.2,280.7 261.8,279.7 262.3,279.9 262.9,268.5 263.4,248.3 264.0,253.3 264.6,274.0 265.1,297.0 265.7,252.1 266.2,250.7 266.8,244.0 267.3,268.5 267.9,285.2 268.4,283.8 269.0,277.3 269.5,287.0 270.1,276.5 270.6,285.7 271.2,276.2 271.7,272.5 272.3,260.3 272.8,262.6 273.4,263.1 273.9,250.3 274.5,262.8 275.0,283.8 275.6,270.6 276.1,256.1 276.7,269.6 277.2,278.5 277.8,263.0 278.4,263.2 278.9,269.4 279.5,257.0 280.0,263.6 280.6,284.2 281.1,284.6 281.7,245.5 282.2,278.3 282.8,266.7 283.3,268.7 283.9,254.6 284.4,254.0 285.0,259.9 285.5,284.4 286.1,260.3 286.6,260.6 287.2,262.3 287.7,267.2 288.3,254.5 288.8,251.1 289.4,280.0 289.9,278.8 290.5,273.3 291.0,246.5 291.6,268.0 292.2,256.3 292.7,267.2 293.3,270.5 293.8,277.8 294.4,265.2 294.9,297.0 295.5,260.9 296.0,272.1 296.6,277.9 297.1,275.8 297.7,290.2 298.2,286.4 298.8,279.1 299.3,286.9 299.9,293.6 300.4,284.6 301.0,252.0 301.5,252.9 302.1,271.8 302.6,257.9 303.2,251.5 303.7,304.7 304.3,252.8 304.8,251.9 305.4,253.0 306.0,264.4 306.5,264.3 307.1,271.3 307.6,285.7 308.2,292.2 308.7,272.7 309.3,253.0 309.8,286.8 310.4,309.3 310.9,283.4 311.5,261.6 312.0,251.8 312.6,287.6 313.1,275.9 313.7,284.1 314.2,277.0 314.8,276.5 315.3,297.5 315.9,281.8 316.4,267.5 317.0,256.5 317.5,261.2 318.1,267.4 318.6,255.0 319.2,266.5 319.8,274.2 320.3,283.8 320.9,271.4 321.4,277.4 322.0,264.9 322.5,287.1 323.1,261.0 323.6,279.0 324.2,278.4 324.7,257.0 325.3,261.6 325.8,275.9 326.4,251.3 326.9,251.0 327.5,271.5 328.0,250.0 328.6,250.9 329.1,250.4 329.7,251.4 330.2,304.7 330.8,290.0 331.3,261.1 331.9,282.2 332.5,292.4 333.0,282.5 333.6,260.8 334.1,273.2 334.7,267.5 335.2,260.8 335.8,277.9 336.3,267.7 336.9,262.3 337.4,268.2 338.0,253.6 338.5,251.7 339.1,255.2 339.6,256.0 340.2,258.3 340.7,251.6 341.3,261.9 341.8,263.6 342.4,255.9 342.9,258.2 343.5,251.7 344.0,251.0 344.6,266.5 345.1,262.6 345.7,291.1 346.3,256.6 346.8,282.0 347.4,294.0 347.9,262.9 348.5,255.4 349.0,261.4 349.6,261.3 350.1,265.2 350.7,254.0 351.2,262.7 351.8,290.6 352.3,266.2 352.9,256.6 353.4,278.3 354.0,257.4 354.5,257.0 355.1,260.9 355.6,256.8 356.2,255.5 356.7,258.6 357.3,274.7 357.8,279.6 358.4,275.4 358.9,273.2 359.5,276.7 360.1,290.0 360.6,276.6 361.2,251.3 361.7,248.3 362.3,261.7 362.8,281.3 363.4,269.7 363.9,247.0 364.5,253.9 365.0,269.4 365.6,282.1 366.1,253.0 366.7,255.8 367.2,268.8 367.8,270.5 368.3,271.3 368.9,264.2 369.4,259.1 370.0,256.4 370.5,256.3 371.1,269.8 371.6,270.9 372.2,269.3 372.7,278.6 373.3,277.2 373.9,278.4 374.4,257.3 375.0,256.9 375.5,290.7 376.1,256.6 376.6,267.8 377.2,283.2 377.7,265.9 378.3,282.8 378.8,265.3 379.4,271.1 379.9,256.3 380.5,269.1 381.0,289.4 381.6,294.0 382.1,263.9 382.7,257.1 383.2,256.5 383.8,256.6 384.3,260.4 384.9,255.8 385.4,256.6 386.0,273.0 386.5,261.5 387.1,265.8 387.7,260.4 388.2,256.2 388.8,254.0 389.3,270.4 389.9,268.6 390.4,302.2 391.0,263.2 391.5,268.8 392.1,257.0 392.6,286.5 393.2,300.4 393.7,278.4 394.3,258.1 394.8,256.6 395.4,260.3 395.9,257.0 396.5,256.5 397.0,305.0 397.6,278.8 398.1,263.1 398.7,275.5 399.2,278.7 399.8,286.4 400.4,264.5 400.9,257.7 401.5,272.9 402.0,297.3 402.6,292.5 403.1,302.6 403.7,305.2 404.2,314.5 404.8,299.1 405.3,255.9 405.9,256.6 406.4,276.8 407.0,266.3 407.5,254.6 408.1,258.4 408.6,256.7 409.2,290.9 409.7,258.0 410.3,256.9 410.8,292.3 411.4,295.4 411.9,283.0 412.5,297.0 413.0,264.6 413.6,259.8 414.2,256.6 414.7,256.4 415.3,259.6 415.8,288.3 416.4,285.1 416.9,300.6 417.5,271.6 418.0,269.4 418.6,268.5 419.1,277.3 419.7,269.8 420.2,260.9 420.8,262.0 421.3,235.0 421.9,172.0 422.4,157.0 423.0,168.0 423.5,225.0 424.1,258.0 424.6,285.3 425.2,250.5 425.7,257.3 426.3,262.7 426.8,273.0 427.4,256.2 428.0,260.2 428.5,265.7 429.1,265.3 429.6,274.2 430.2,301.0 430.7,260.0 431.3,254.6 431.8,286.4 432.4,260.3 432.9,255.9 433.5,277.9 434.0,264.8 434.6,271.8 435.1,288.9 435.7,305.9 436.2,272.9 436.8,256.8 437.3,256.4 437.9,256.5 438.4,254.3 439.0,255.4 439.5,252.6 440.1,271.0 440.6,258.7 441.2,281.3 441.8,279.3 442.3,258.8 442.9,271.8 443.4,263.7 444.0,262.6 444.5,269.1 445.1,309.6 445.6,295.8 446.2,292.7 446.7,277.1 447.3,284.1 447.8,305.0 448.4,266.7 448.9,269.2 449.5,282.9 450.0,287.7 450.6,282.9 451.1,295.5 451.7,272.3 452.2,271.9 452.8,272.6 453.3,272.0 453.9,287.0 454.4,286.0 455.0,278.2 455.6,281.8 456.1,278.4 456.7,273.3 457.2,321.8 457.8,273.9 458.3,302.2 458.9,274.4 459.4,285.6 460.0,271.0 460.5,277.2 461.1,278.2 461.6,277.9 462.2,285.6 462.7,309.1 463.3,279.7 463.8,278.0 464.4,288.3 464.9,304.8 465.5,284.4 466.0,278.2 466.6,276.6 467.1,271.0 467.7,284.3 468.3,279.3 468.8,275.2 469.4,317.6 469.9,280.0 470.5,300.1 471.0,300.9 471.6,290.8 472.1,318.6 472.7,295.8 473.2,310.8 473.8,304.7 474.3,310.9 474.9,312.9 475.4,316.8 476.0,309.3 476.5,321.3 477.1,300.0 477.6,306.0 478.2,300.1 478.7,323.6 479.3,318.3 479.8,301.0 480.4,315.0 480.9,321.4 481.5,309.6 482.1,309.1 482.6,320.1 483.2,316.4 483.7,310.2 484.3,300.0 484.8,311.1 485.4,314.1 485.9,308.8 486.5,313.7 487.0,324.2 487.6,320.3 488.1,319.2 488.7,331.4 489.2,326.8 489.8,331.0 490.3,304.0 490.9,324.1 491.4,314.8 492.0,316.1 492.5,321.3 493.1,324.1 493.6,329.3 494.2,341.0 494.7,328.0 495.3,342.1 495.9,337.1 496.4,345.0 497.0,326.7 497.5,329.0 498.1,334.2 498.6,328.7 499.2,329.4 499.7,333.3 500.3,341.7 500.8,332.4 501.4,343.6 501.9,362.0 502.5,356.1 503.0,347.3 503.6,353.1 504.1,343.7 504.7,336.3 505.2,340.2 505.8,360.1 506.3,357.4 506.9,370.6 507.4,353.1 508.0,341.7 508.5,346.4 509.1,335.3 509.7,359.5 510.2,379.4 510.8,346.3 511.3,347.2 511.9,344.6 512.4,333.7 513.0,330.0 513.5,389.0 514.1,338.5 514.6,330.3 515.2,333.4 515.7,355.9 516.3,357.0 516.8,337.7 517.4,332.0 517.9,349.5 518.5,358.0 519.0,344.9 519.6,327.3 520.1,334.1 520.7,352.5 521.2,351.5 521.8,350.7 522.4,317.0 522.9,328.5 523.5,325.3 524.0,319.3 524.6,343.7 525.1,323.2 525.7,318.6 526.2,317.2 526.8,317.7 527.3,325.2 527.9,328.9 528.4,324.2 529.0,324.7 529.5,332.6 530.1,322.6 530.6,323.1 531.2,331.6 531.7,330.6 532.3,328.6 532.8,327.3 533.4,321.2 533.9,319.9 534.5,316.5 535.0,309.0 535.6,317.0 536.2,316.3 536.7,316.8 537.3,318.7 537.8,309.0 538.4,317.5 538.9,322.2 539.5,323.5 540.0,322.7 540.6,318.5 541.1,318.1 541.7,316.6 542.2,310.7 542.8,322.1 543.3,317.9 543.9,317.6 544.4,318.2 545.0,322.7 545.5,297.6 546.1,320.6 546.6,316.5 547.2,318.5 547.7,317.2 548.3,318.8 548.8,322.3 549.4,318.6 550.0,317.6 550.5,311.0 551.1,320.1 551.6,312.8 552.2,309.0 552.7,314.2 553.3,318.9 553.8,311.0 554.4,308.9 554.9,319.9 555.5,321.6 556.0,305.8 556.6,321.0 557.1,316.8 557.7,317.7 558.2,319.0 558.8,317.9 559.3,316.8 559.9,320.6 560.4,321.9 561.0,322.4 561.5,319.8 562.1,292.4 562.6,323.0 563.2,317.8 563.8,317.2 564.3,317.1 564.9,319.3 565.4,322.3 566.0,295.5 566.5,317.7 567.1,317.4 567.6,319.9 568.2,322.5 568.7,320.1 569.3,298.6 569.8,318.1 570.4,316.4 570.9,319.5 571.5,321.5 572.0,321.1 572.6,321.7 573.1,318.9 573.7,318.7 574.2,294.5 574.8,322.1 575.3,314.8 575.9,311.8 576.4,296.3 577.0,297.8 577.6,322.0 578.1,321.5 578.7,322.3 579.2,319.4 579.8,304.8 580.3,307.9 580.9,322.4 581.4,321.4 582.0,318.1 582.5,304.8 583.1,317.1 583.6,312.7 584.2,320.4" fill="none" stroke="#0000ff" stroke-width="1" shape-rendering="crispEdges"/>
</g>
<g shape-rendering="crispEdges">
<rect x="18" y="20" width="2" height="425" fill="#808080"/>
<rect x="70" y="20" width="1" height="425" fill="#808080"/>
<rect x="121" y="20" width="1" height="425" fill="#808080"/>
<rect x="173" y="20" width="1" height="425" fill="#808080"/>
<rect x="224" y="20" width="1" height="425" fill="#808080"/>
<rect x="274" y="20" width="2" height="425" fill="#808080"/>
<rect x="326" y="20" width="1" height="425" fill="#808080"/>
<rect x="378" y="20" width="1" height="425" fill="#808080"/>
<rect x="429" y="20" width="1" height="425" fill="#808080"/>
<rect x="480" y="20" width="1" height="425" fill="#808080"/>
<rect x="530" y="20" width="2" height="425" fill="#808080"/>
<rect x="583" y="20" width="1" height="425" fill="#808080"/>
<rect x="20" y="20" width="563" height="1" fill="#b8b8b8"/>
<rect x="20" y="81" width="563" height="1" fill="#b8b8b8"/>
<rect x="20" y="141" width="563" height="1" fill="#b8b8b8"/>
<rect x="20" y="202" width="563" height="1" fill="#b8b8b8"/>
<rect x="20" y="262" width="563" height="1" fill="#b8b8b8"/>
<rect x="20" y="323" width="563" height="1" fill="#b8b8b8"/>
<rect x="20" y="383" width="563" height="1" fill="#b8b8b8"/>
<rect x="20" y="444" width="563" height="1" fill="#b8b8b8"/>
</g>
<g shape-rendering="crispEdges">
<rect x="629" y="53" width="10" height="395" fill="#c0c0c0"/>
<rect x="625.5" y="49.5" width="9" height="394" fill="#ff8080" stroke="#000"/>
<rect x="645" y="39" width="10" height="409" fill="#c0c0c0"/>
<rect x="641.5" y="35.5" width="9" height="408" fill="#8080ff" stroke="#000"/>
</g>
<g style="will-change:transform">
<text x="18.0" y="16" text-anchor="middle">0</text>
<text x="18.0" y="455" text-anchor="middle">0</text>
<text x="69.3" y="16" text-anchor="middle">2</text>
<text x="69.3" y="455" text-anchor="middle">2</text>
<text x="120.5" y="16" text-anchor="middle">4</text>
<text x="120.5" y="455" text-anchor="middle">4</text>
<text x="171.8" y="16" text-anchor="middle">6</text>
<text x="171.8" y="455" text-anchor="middle">6</text>
<text x="223.1" y="16" text-anchor="middle">8</text>
<text x="223.1" y="455" text-anchor="middle">8</text>
<text x="274.4" y="16" text-anchor="middle">10</text>
<text x="274.4" y="455" text-anchor="middle">10</text>
<text x="325.6" y="16" text-anchor="middle">12</text>
<text x="325.6" y="455" text-anchor="middle">12</text>
<text x="376.9" y="16" text-anchor="middle">14</text>
<text x="376.9" y="455" text-anchor="middle">14</text>
<text x="428.2" y="16" text-anchor="middle">16</text>
<text x="428.2" y="455" text-anchor="middle">16</text>
<text x="479.5" y="16" text-anchor="middle">18</text>
<text x="479.5" y="455" text-anchor="middle">18</text>
<text x="530.7" y="16" text-anchor="middle">20</text>
<text x="530.7" y="455" text-anchor="middle">20</text>
<text x="582.0" y="16" text-anchor="middle">22</text>
<text x="582.0" y="455" text-anchor="middle">22</text>
<text x="586" y="24">0</text>
<text x="586" y="85">-20</text>
<text x="586" y="145">-40</text>
<text x="586" y="206">-60</text>
<text x="586" y="266">-80</text>
<text x="586" y="327">-100</text>
<text x="586" y="387">-120</text>
<text x="586" y="448">-140</text>
<text x="598" y="253">[dB]</text>
<text x="320" y="470">[kHz]</text>
<text x="10" y="476">created by Hub Audio Tools</text>
</g>
</svg>
</body></html>
